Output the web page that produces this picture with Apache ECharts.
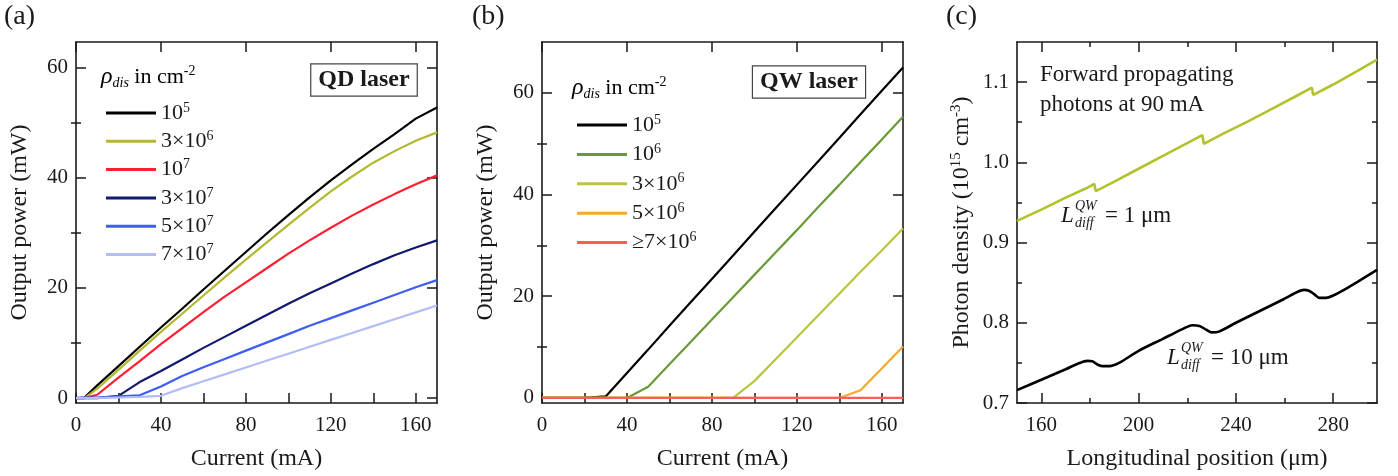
<!DOCTYPE html>
<html><head><meta charset="utf-8">
<script src="https://cdn.jsdelivr.net/npm/echarts@6/dist/echarts.min.js"></script>
<style>html,body{margin:0;padding:0;background:#fff}#c{width:1398px;height:476px}</style>
</head><body><div id="c"></div>
<script>
// ---------- data ----------
const qdCurrent = [0,4,10,20,30,40,50,60,70,80,90,100,110,120,130,140,150,160,170];
const qd_1e5 = [0,0.1,2.3,5.8,9.3,12.8,16.2,19.7,23.1,26.5,29.9,33.2,36.4,39.5,42.4,45.2,47.9,50.7,52.7];
const qd_3e6 = [0,0,1.7,5.1,8.6,12.0,15.3,18.6,21.9,25.1,28.3,31.4,34.5,37.5,40.2,42.7,44.8,46.7,48.2];
const qd_1e7 = [0,0,0.6,3.7,6.7,9.8,12.7,15.6,18.4,21.0,23.6,26.2,28.6,30.9,33.1,35.1,37.0,38.8,40.4];
const qd_3e7 = [0,0,0,0.4,2.9,4.9,7.0,9.1,11.1,13.1,15.1,17.1,19.0,20.8,22.6,24.3,25.9,27.3,28.6];
const qd_5e7 = [0,0.1,0.1,0.3,0.5,2.1,4.0,5.6,7.1,8.6,10.1,11.6,13.1,14.5,15.9,17.3,18.7,20.1,21.4];
const qd_7e7 = [0,0,0,0.1,0.2,0.4,1.8,3.05,4.3,5.55,6.8,8.05,9.3,10.55,11.8,13.05,14.3,15.55,16.8];
const qdLegend = ['10^5','3×10^6','10^7','3×10^7','5×10^7','7×10^7'];

const qwCurrent = [0,10,20,30,40,50,60,70,80,90,100,110,120,130,140,150,160,170];
const qw_1e5 = [0,0,0,0.3,4.9,9.5,14.2,18.8,23.4,28.0,32.7,37.3,41.9,46.5,51.1,55.8,60.4,65.0];
const qw_1e6 = [0,0,0,0,0,2.2,6.6,11.0,15.4,19.8,24.2,28.6,33.0,37.5,41.9,46.4,50.8,55.3];
const qw_3e6 = [0,0,0,0,0,0,0,0,0,0,3.3,7.6,11.9,16.2,20.5,24.8,29.0,33.3];
const qw_5e6 = [0,0,0,0,0,0,0,0,0,0,0,0,0,0,0,1.5,5.8,10.1];
const qw_7e6 = [0,0,0,0,0,0,0,0,0,0,0,0,0,0,0,0,0,0];
const qwLegend = ['10^5','10^6','3×10^6','5×10^6','≥7×10^6'];

const posL1 = [150,160,170,178,181.8,182.4,190,200,210,220,226.2,226.8,235,245,255,265,271.2,271.8,280,290,298];
const dens_L1 = [0.927,0.941,0.956,0.967,0.973,0.964,0.976,0.992,1.008,1.024,1.034,1.023,1.036,1.051,1.067,1.083,1.093,1.084,1.097,1.114,1.128];
const posL10 = [150,160,170,175,179,181,183,185,188,192,200,210,218,222,225,228,230,233,240,250,260,265,268,270,272,274.5,277,280,285,290,298];
const dens_L10 = [0.716,0.729,0.742,0.749,0.7525,0.752,0.748,0.746,0.746,0.750,0.765,0.780,0.792,0.797,0.796,0.791,0.788,0.789,0.800,0.815,0.830,0.838,0.841,0.840,0.836,0.831,0.831,0.834,0.842,0.851,0.866];

const ticksCurrent = [0,40,80,120,160];
const minorCurrent = [20,60,100,140];
const ticksPower = [0,20,40,60];
const minorPower = [10,30,50];
const ticksPos = [160,200,240,280];
const minorPos = [180,220,260];
const ticksDens = [0.7,0.8,0.9,1.0,1.1];
const minorDens = [0.75,0.85,0.95,1.05];

// ---------- styling ----------
const fam = '"Liberation Serif","DejaVu Serif","Times New Roman",serif';
const ink = '#1a1a1a';
const qdColors = ['#000000','#b2b92f','#ff1f33','#111a6e','#3f5ef0','#b2bdf6'];
const qwColors = ['#000000','#6a9a38','#b9c63d','#f7a928','#ff5b5b'];
const cColors = ['#b3c22b','#000000'];

const grids = [
  {left:76, top:42, width:361, height:364},
  {left:542, top:42, width:361, height:365},
  {left:1017, top:42, width:360, height:365}
];

function richSup(s){ const p = s.split('^'); return '{n|'+p[0]+'}{s|'+p[1]+'}'; }
const supRich = {
  n:{fontSize:22, fontFamily:fam, color:ink, lineHeight:24},
  s:{fontSize:14, fontFamily:fam, color:ink, lineHeight:14, verticalAlign:'top'}
};

function axisSet(gi, dim, o){
  const mainPos = dim==='x' ? 'bottom' : 'left';
  const mirPos = dim==='x' ? 'top' : 'right';
  const line = {show:true, onZero:false, lineStyle:{color:ink, width:1.6}};
  const base = {type:'value', gridIndex:gi, min:o.min, max:o.max, splitLine:{show:false}};
  const tickStyle = {color:ink, width:1.5};
  return [
    Object.assign({}, base, {
      position:mainPos, axisLine:line,
      axisTick:{show:true, inside:true, length:10, customValues:o.major, lineStyle:tickStyle},
      axisLabel:{show:true, customValues:o.major, formatter:o.fmt, margin:dim==='x'?12:8,
        fontSize:21, fontFamily:fam, color:ink},
      name:o.name, nameLocation:'middle', nameGap:o.nameGap,
      nameTextStyle:{fontSize:24, fontFamily:fam, color:ink, rich:o.rich}
    }),
    Object.assign({}, base, {
      position:mainPos, axisLine:{show:false},
      axisTick:{show:true, inside:true, length:5, customValues:o.minor, lineStyle:tickStyle},
      axisLabel:{show:false}
    }),
    Object.assign({}, base, {
      position:mirPos, axisLine:line,
      axisTick:{show:true, inside:true, length:10, customValues:o.major, lineStyle:tickStyle},
      axisLabel:{show:false}
    }),
    Object.assign({}, base, {
      position:mirPos, axisLine:{show:false},
      axisTick:{show:true, inside:true, length:5, customValues:o.minor, lineStyle:tickStyle},
      axisLabel:{show:false}
    })
  ];
}

const intFmt = v => String(Math.round(v));
const xAxes = [].concat(
  axisSet(0,'x',{min:0,max:170,major:ticksCurrent,minor:minorCurrent,fmt:intFmt,name:'Current (mA)',nameGap:44}),
  axisSet(1,'x',{min:0,max:170,major:ticksCurrent,minor:minorCurrent,fmt:intFmt,name:'Current (mA)',nameGap:44}),
  axisSet(2,'x',{min:150,max:298,major:ticksPos,minor:minorPos,fmt:intFmt,name:'Longitudinal position (μm)',nameGap:44})
);
const yAxes = [].concat(
  axisSet(0,'y',{min:-0.9,max:64.6,major:ticksPower,minor:minorPower,fmt:intFmt,name:'Output power (mW)',nameGap:44}),
  axisSet(1,'y',{min:-1,max:70,major:ticksPower,minor:minorPower,fmt:intFmt,name:'Output power (mW)',nameGap:44}),
  axisSet(2,'y',{min:0.7,max:1.15,major:ticksDens,minor:minorDens,fmt:v=>v.toFixed(1),
    name:'{n|Photon density (10}{s|15}{n| cm}{s|-3}{n|)}',nameGap:42,
    rich:{n:{fontSize:24,fontFamily:fam,color:ink,lineHeight:26},s:{fontSize:15,fontFamily:fam,color:ink,lineHeight:15,verticalAlign:'top'}}})
);

const series = [];
const qdData = [qd_1e5,qd_3e6,qd_1e7,qd_3e7,qd_5e7,qd_7e7];
qdData.forEach((arr,i)=>series.push({
  type:'line', name:'QD '+qdLegend[i], xAxisIndex:0, yAxisIndex:0,
  data:qdCurrent.map((c,j)=>[c,arr[j]]), color:qdColors[i],
  showSymbol:false, symbol:'none', lineStyle:{width:2.2}, z:2+i
}));
const qwData = [qw_1e5,qw_1e6,qw_3e6,qw_5e6,qw_7e6];
qwData.forEach((arr,i)=>series.push({
  type:'line', name:'QW '+qwLegend[i], xAxisIndex:4, yAxisIndex:4,
  data:qwCurrent.map((c,j)=>[c,arr[j]]), color:qwColors[i],
  showSymbol:false, symbol:'none', lineStyle:{width:2.2}, z:2+i
}));
series.push({type:'line', name:'L1', xAxisIndex:8, yAxisIndex:8,
  data:posL1.map((p,j)=>[p,dens_L1[j]]), color:cColors[0], showSymbol:false, symbol:'none', lineStyle:{width:2.6}});
series.push({type:'line', name:'L10', xAxisIndex:8, yAxisIndex:8, smooth:0.3,
  data:posL10.map((p,j)=>[p,dens_L10[j]]), color:cColors[1], showSymbol:false, symbol:'none', lineStyle:{width:2.6}});

function legendCfg(names, left, top, gap){
  return {orient:'vertical', left:left, top:top, itemWidth:50, itemHeight:3, itemGap:gap, icon:'rect',
    selectedMode:false, data:names, formatter:n=>richSup(n.slice(3)),
    textStyle:{rich:supRich, fontSize:22, fontFamily:fam, color:ink}};
}

const titleRich = {
  i:{fontSize:24, fontFamily:fam, fontStyle:'italic', color:ink, lineHeight:26},
  sub:{fontSize:14, fontFamily:fam, fontStyle:'italic', color:ink, lineHeight:12, verticalAlign:'bottom'},
  n:{fontSize:22, fontFamily:fam, color:ink, lineHeight:26},
  s:{fontSize:14, fontFamily:fam, color:ink, lineHeight:14, verticalAlign:'top'}
};
const legendTitle = '{i|ρ}{sub|dis}{n| in cm}{s|-2}';

function txt(x,y,text,font,extra){
  return Object.assign({type:'text', x:x, y:y, silent:true,
    style:Object.assign({text:text, font:font, fill:ink, textAlign:'left', textVerticalAlign:'middle'}, extra||{})});
}
function lDiff(x,y,value){
  return {type:'group', x:x, y:y, children:[
    txt(0,0,'L','italic 23px '+fam),
    txt(14,-10,'QW','italic 14px '+fam),
    txt(14,7,'diff','italic 14px '+fam),
    txt(44,0,'= '+value+' μm','23px '+fam)
  ]};
}

const graphic = [
  txt(4,17,'(a)','28px '+fam),
  txt(472,17,'(b)','28px '+fam),
  txt(946,17,'(c)','28px '+fam),
  {type:'text', x:101, y:77, silent:true, style:{text:legendTitle, rich:titleRich, textVerticalAlign:'middle'}},
  {type:'text', x:572, y:88, silent:true, style:{text:legendTitle, rich:titleRich, textVerticalAlign:'middle'}},
  txt(364,80,'QD laser','bold 24px '+fam,{textAlign:'center', padding:[4,7,3,7], borderColor:'#444', borderWidth:1.2, backgroundColor:'#fff'}),
  txt(809,82,'QW laser','bold 24px '+fam,{textAlign:'center', padding:[4,7,3,7], borderColor:'#444', borderWidth:1.2, backgroundColor:'#fff'}),
  txt(1040,59.5,'Forward propagating\nphotons at 90 mA','23px '+fam,{textVerticalAlign:'top', lineHeight:30}),
  lDiff(1061,216,'1'),
  lDiff(1167,358,'10')
];

const chart = echarts.init(document.getElementById('c'), null, {renderer:'canvas'});
chart.setOption({
  animation:false,
  backgroundColor:'#fff',
  grid:grids,
  xAxis:xAxes,
  yAxis:yAxes,
  legend:[
    legendCfg(qdLegend.map(s=>'QD '+s), 101, 96, 5.3),
    legendCfg(qwLegend.map(s=>'QW '+s), 572, 108, 6.4)
  ],
  series:series,
  graphic:graphic
});
</script>
</body></html>
